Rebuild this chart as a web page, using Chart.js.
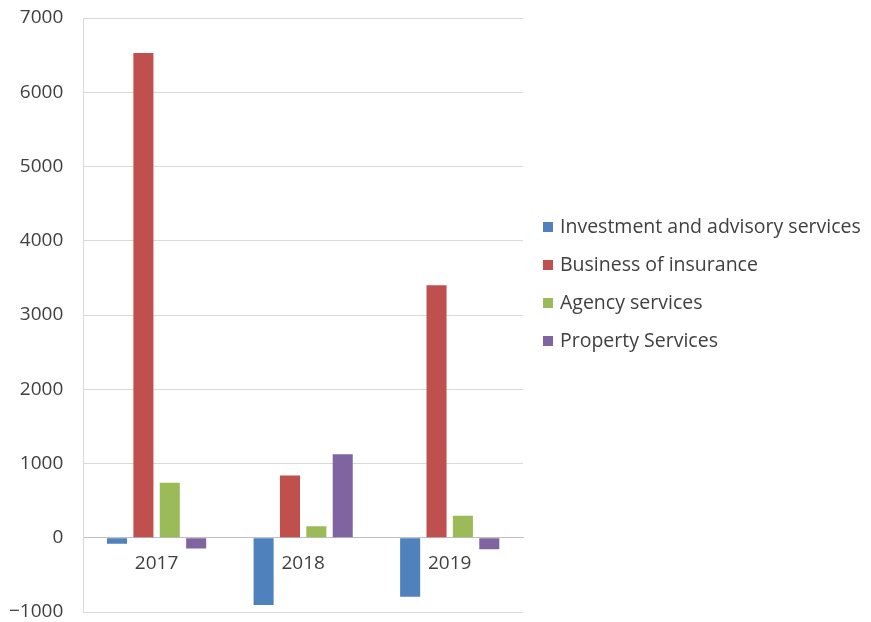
<!DOCTYPE html>
<html>
<head>
<meta charset="utf-8">
<script src="https://cdn.jsdelivr.net/npm/chart.js@4"></script>
<style>
  body { margin: 0; background: #fff; }
  #wrap { position: relative; width: 871px; height: 622px; }
  #legend { position: absolute; left: 543px; top: 212px; font-family: 'Open Sans', sans-serif; font-size: 19.5px; color: #404040; }
  #legend .item { height: 38px; line-height: 28px; white-space: nowrap; }
  #legend .box { display: inline-block; width: 10px; height: 10px; margin-right: 7px; vertical-align: 1px; }
</style>
</head>
<body>
<div id="wrap"><canvas id="chart"></canvas><div id="legend"></div></div>
<script>
// categories and series
const years = ['2017', '2018', '2019'];
const seriesNames = ['Investment and advisory services', 'Business of insurance', 'Agency services', 'Property Services'];
const seriesColors = ['#4f81bd', '#c0504d', '#9bbb59', '#8064a2'];
const investment = [-80, -905, -795];
const insurance = [6530, 840, 3400];
const agency = [740, 155, 295];
const property = [-145, 1125, -155];
const values = [investment, insurance, agency, property];

const font = { family: 'Open Sans', size: 19, lineHeight: 1 };

const ctx = document.getElementById('chart').getContext('2d');
const chart = new Chart(ctx, {
    type: 'bar',
    data: {
        labels: years,
        datasets: seriesNames.map((name, i) => ({
            label: name,
            data: values[i],
            backgroundColor: seriesColors[i]
        }))
    },
    options: {
        responsive: true,
        maintainAspectRatio: false,
        animation: false,
        datasets: {
            bar: { categoryPercentage: 0.72, barPercentage: 0.76 }
        },
        layout: { padding: { top: 18, bottom: 10, left: 9, right: 348 } },
        plugins: {
            tooltip: { enabled: false },
            legend: { display: false }
        },
        scales: {
            x: {
                position: { y: 0 },
                afterFit: s => { s.height = 0; },
                grid: { display: false },
                border: { display: true, color: '#bfbfbf' },
                ticks: { font: font, color: '#404040', padding: 8 }
            },
            y: {
                min: -1000,
                max: 7000,
                ticks: {
                    stepSize: 1000,
                    font: font,
                    color: '#404040',
                    padding: 0,
                    callback: v => String(v).replace('-', '\u2212')
                },
                grid: { color: '#d9d9d9', tickLength: 20, tickColor: 'rgba(0,0,0,0)' },
                border: { color: '#d9d9d9' }
            }
        }
    }
});

// legend as html text, built from the chart's own datasets
const legend = document.getElementById('legend');
chart.data.datasets.forEach(ds => {
    const item = document.createElement('div');
    item.className = 'item';
    const box = document.createElement('span');
    box.className = 'box';
    box.style.background = ds.backgroundColor;
    item.appendChild(box);
    item.appendChild(document.createTextNode(ds.label));
    legend.appendChild(item);
});
</script>
</body>
</html>
